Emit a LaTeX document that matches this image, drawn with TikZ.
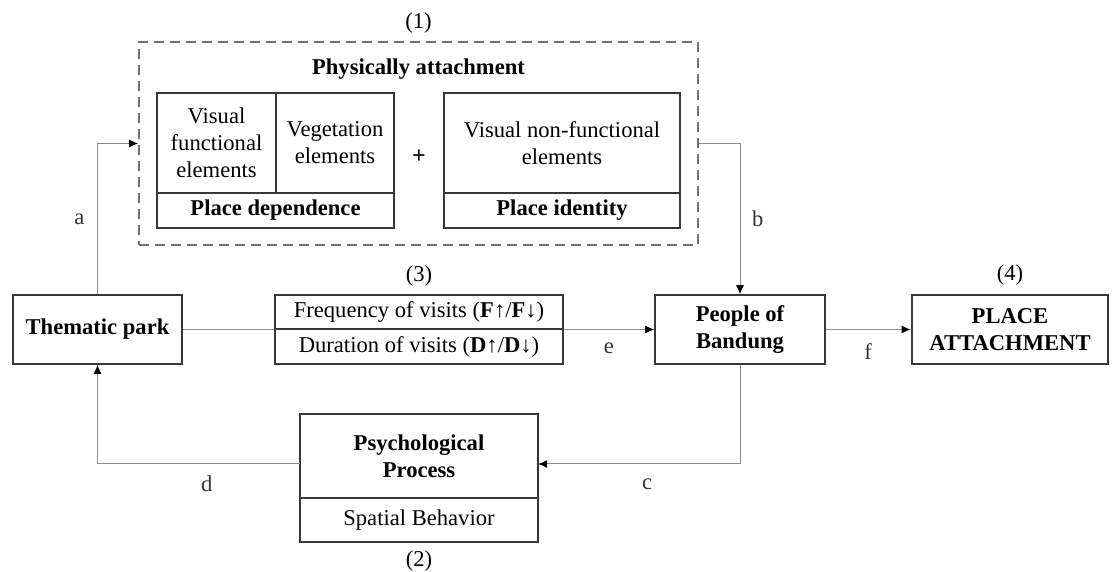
\documentclass[tikz,border=0pt,11pt]{standalone}
\usepackage{fontspec}
\setmainfont{Liberation Serif}
\usepackage{tikz}
\usetikzlibrary{arrows.meta, positioning}
\definecolor{boxGray}{gray}{0.22}
\definecolor{lineGray}{gray}{0.55}
\definecolor{dashGray}{gray}{0.45}
\AtBeginDocument{\fontsize{11.3}{13.6}\selectfont}
\tikzset{
  cell/.style={draw=boxGray, line width=0.8pt, inner sep=0pt, align=center},
  conn/.style={draw=lineGray, line width=0.5pt},
  tip/.style={-{Latex[color=black, length=4.5pt, width=4pt]}},
  tag/.style={text=black!80}
}

\begin{document}
\begin{tikzpicture}[x=0.5pt, y=-0.5pt]

  \useasboundingbox (0,0) rectangle (1115,572);

  % (1) physically attachment
  \node[draw=dashGray, line width=0.9pt, dash pattern=on 5pt off 3pt, minimum width=279.5pt, minimum height=101.5pt] (phys) at (418.5,143.5) {};
  \node[above] (n1) at (phys.north) {(1)};
  \node[font=\bfseries] (physTitle) at (418.5,69) {Physically attachment};
  \node[cell, minimum width=59.5pt, minimum height=50pt] (vfe) at (216.5,143) {Visual\\functional\\elements};
  \node[cell, minimum width=59pt, minimum height=50pt] (veg) at (335,143) {Vegetation\\elements};
  \node[cell, font=\bfseries, minimum width=118.5pt, minimum height=17.5pt] (pdep) at (275.5,210.5) {Place dependence};
  \node[font=\bfseries\large] (plus) at (419,157) {+};
  \node[cell, minimum width=118pt, minimum height=50pt] (vnf) at (562,143) {Visual non-functional\\elements};
  \node[cell, font=\bfseries, minimum width=118pt, minimum height=17.5pt] (pid) at (562,210.5) {Place identity};

  % middle row
  \node[cell, font=\bfseries, minimum width=84.5pt, minimum height=34.5pt] (thematic) at (97.5,329.5) {Thematic park};
  \node[cell, minimum width=144pt, minimum height=17pt] (freq) at (419,312) {Frequency of visits (\textbf{F}↑/\textbf{F}↓)};
  \node[cell, minimum width=144pt, minimum height=17.5pt] (dur) at (419,346.5) {Duration of visits (\textbf{D}↑/\textbf{D}↓)};
  \node[above] (n3) at (freq.north) {(3)};
  \node[cell, font=\bfseries, minimum width=85pt, minimum height=34.5pt] (people) at (740,329.5) {People of\\Bandung};
  \node[cell, font=\bfseries, line width=1.4pt, minimum width=98pt, minimum height=34.5pt] (pa) at (1010,329.5) {PLACE\\ATTACHMENT};
  \node[above] (n4) at (pa.north) {(4)};

  % (2) psychological process
  \node[cell, font=\bfseries, minimum width=119pt, minimum height=42pt] (psy) at (419,456) {Psychological\\Process};
  \node[cell, minimum width=119pt, minimum height=22pt] (spat) at (419,520) {Spatial Behavior};
  \node[below] (n2) at (spat.south) {(2)};

  \coordinate (cIn) at (538,464);
  \coordinate (dOut) at (300,464);

  % connectors
  \draw[conn, tip] (thematic.north) |- node[tag, pos=0.25, left=2.5pt] {a} (phys.west);
  \draw[conn, tip] (phys.east) -| node[tag, pos=0.75, right=2pt] {b} (people.north);
  \draw[conn] (thematic.east) -- (thematic.east -| freq.west);
  \draw[conn, tip] (freq.east |- people.west) -- node[tag, below=2.5pt] {e} (people.west);
  \draw[conn, tip] (people.east) -- node[tag, below=3pt] {f} (pa.west);
  \draw[conn, tip] (people.south) |- node[tag, pos=0.73, below=3.5pt] {c} (cIn);
  \draw[conn, tip] (dOut) -| node[tag, pos=0.23, below=2pt] {d} (thematic.south);

\end{tikzpicture}
\end{document}
